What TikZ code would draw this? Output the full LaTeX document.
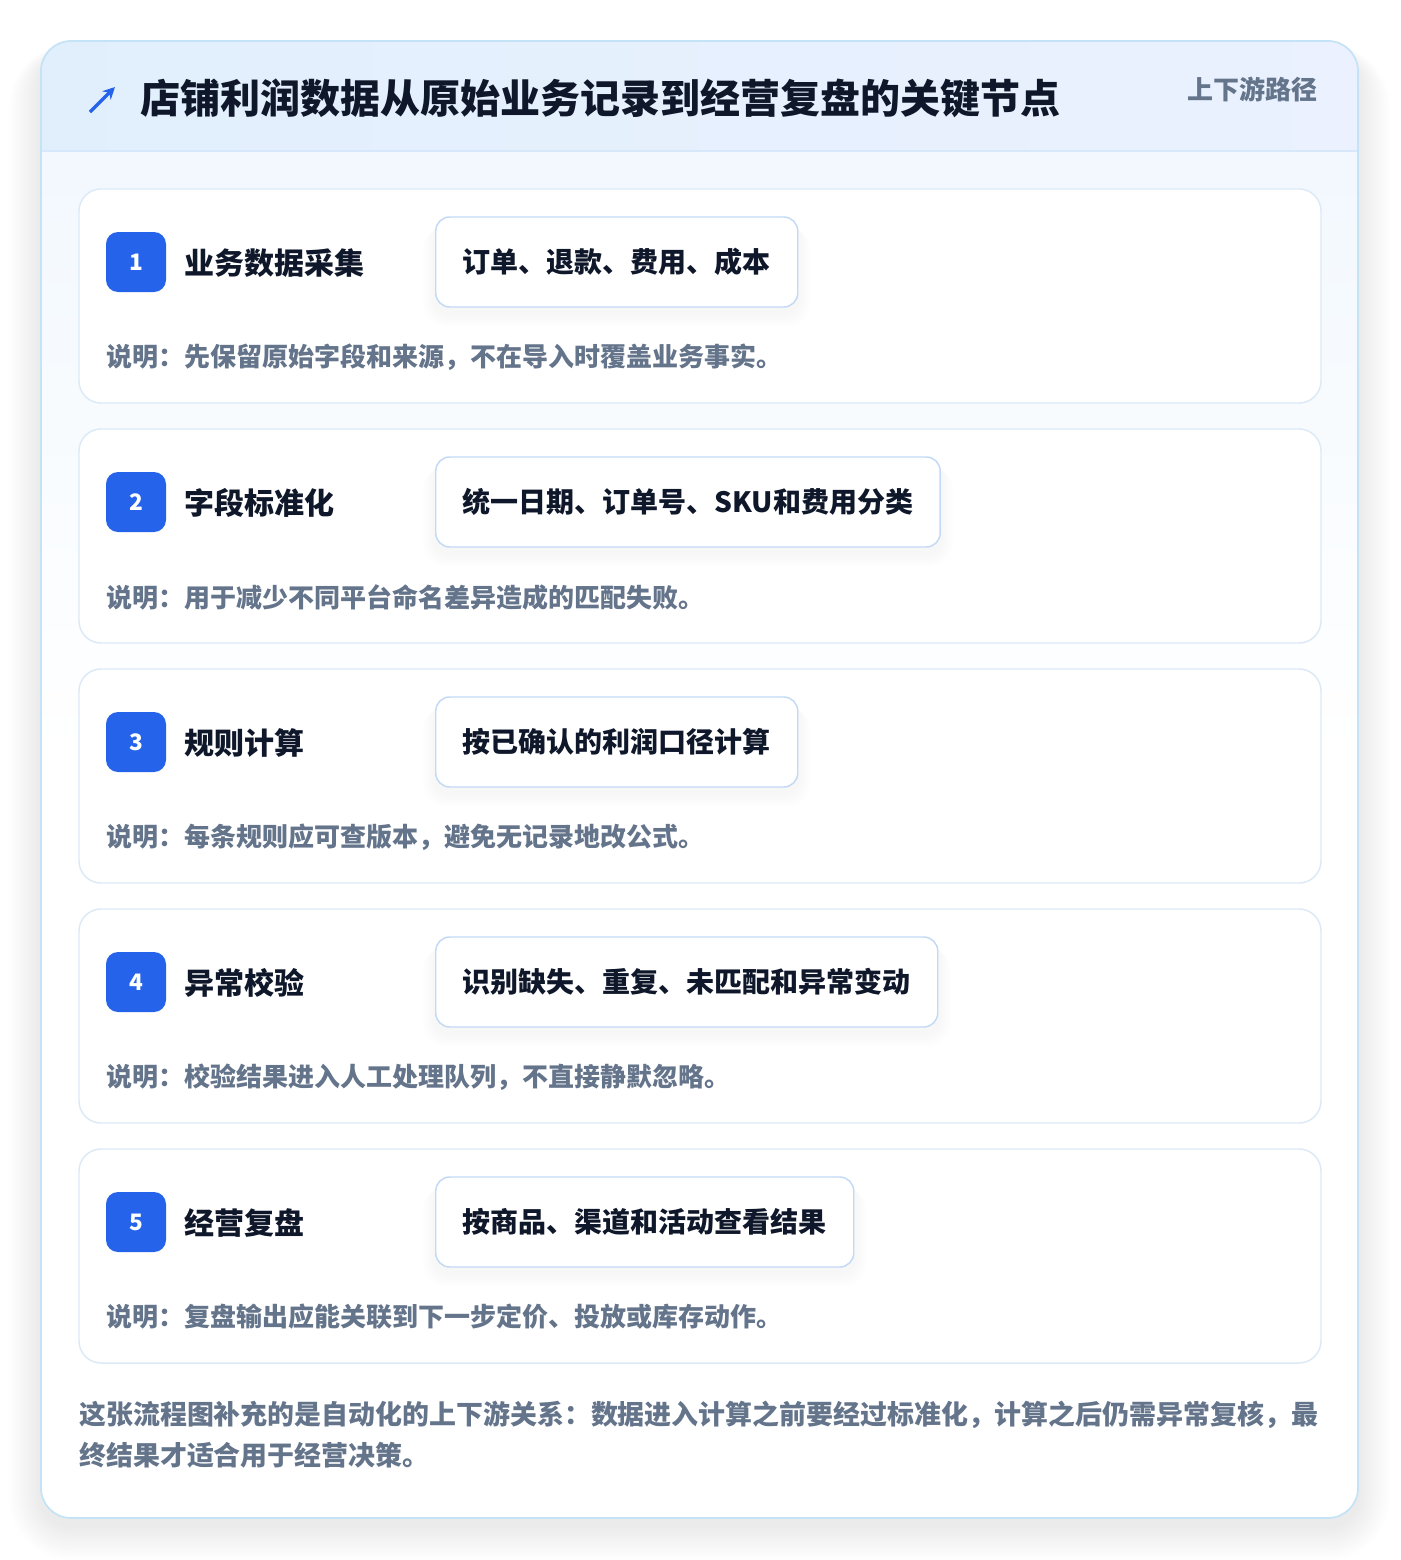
\documentclass[tikz,border=0pt]{standalone}
\usepackage{fontspec}
\usetikzlibrary{arrows.meta}
\setmainfont{Noto Sans CJK SC}
\definecolor{outerb}{HTML}{C5E3F7}
\definecolor{hdrL}{HTML}{E1EFFD}
\definecolor{hdrR}{HTML}{EBF1FE}
\definecolor{hdrline}{HTML}{D6E8FA}
\definecolor{bodyT}{HTML}{F2F8FE}
\definecolor{cardb}{HTML}{DCEAF7}
\definecolor{pillb}{HTML}{C3D9F5}
\definecolor{badge}{HTML}{2563EB}
\definecolor{ink}{HTML}{0F172A}
\definecolor{muted}{HTML}{64748B}
\tikzset{
  titletext/.style={anchor=west, inner sep=0pt, text=ink, font=\bfseries\fontsize{30pt}{36pt}\selectfont},
  tagtext/.style={anchor=east, inner sep=0pt, text=muted, font=\bfseries\fontsize{19.5pt}{24pt}\selectfont},
  stepcard/.style={fill=white, draw=cardb, line width=1.1pt, rounded corners=16.5pt},
  badgebox/.style={fill=badge, rounded corners=9pt, minimum width=45pt, minimum height=45pt, inner sep=0pt, text=white, font=\bfseries\fontsize{17pt}{20pt}\selectfont},
  steptitle/.style={anchor=west, inner sep=0pt, text=ink, font=\bfseries\fontsize{22.5pt}{27pt}\selectfont},
  pillbox/.style={anchor=west, fill=white, draw=pillb, line width=1.1pt, rounded corners=10.5pt, minimum height=67.5pt, inner xsep=20.25pt, inner ysep=0pt, text=ink, font=\bfseries\fontsize{21pt}{25pt}\selectfont},
  desctext/.style={anchor=west, inner sep=0pt, text=muted, font=\bfseries\fontsize{19.5pt}{23pt}\selectfont},
  foottext/.style={anchor=north west, inner sep=0pt, align=left, text=muted, font=\bfseries\fontsize{20.2pt}{30.75pt}\selectfont},
}
\begin{document}
\begin{tikzpicture}[x=0.75pt,y=-0.75pt]
\useasboundingbox (0,0) rectangle (1400,1560);
\fill[white] (0,0) rectangle (1400,1560);
% outer shadow
\foreach \i in {1,...,20}{
  \fill[black, opacity=0.0035, rounded corners=22.5pt+\i*1.2pt] (41-\i*1.6,41-\i*0.4+12) rectangle (1358+\i*1.6,1518+\i*1.7+8);
}
% outer card
\begin{scope}
\clip[rounded corners=22.5pt] (41,41) rectangle (1358,1518);
\shade[left color=hdrL, right color=hdrR] (41,41) rectangle (1358,151);
\shade[top color=bodyT, bottom color=white] (41,151) rectangle (1358,760);
\fill[white] (41,759) rectangle (1358,1518);
\end{scope}
\draw[hdrline, line width=1.1pt] (41,151) -- (1358,151);
\draw[outerb, line width=1.3pt, rounded corners=22.5pt] (41,41) rectangle (1358,1518);
% header
\coordinate (arrS) at (90,112);
\coordinate (arrE) at (115,87);
\draw[badge, line width=2.6pt, -{Stealth[length=9pt,width=9pt]}] (arrS) -- (arrE);
\node[titletext] (title) at (140,98) {店铺利润数据从原始业务记录到经营复盘的关键节点};
\node[tagtext] (tag) at (1318,89) {上下游路径};
% steps
\foreach \n/\t/\p/\d [count=\k from 0] in {
  1/业务数据采集/订单、退款、费用、成本/说明：先保留原始字段和来源，不在导入时覆盖业务事实。,
  2/字段标准化/统一日期、订单号、SKU和费用分类/说明：用于减少不同平台命名差异造成的匹配失败。,
  3/规则计算/按已确认的利润口径计算/说明：每条规则应可查版本，避免无记录地改公式。,
  4/异常校验/识别缺失、重复、未匹配和异常变动/说明：校验结果进入人工处理队列，不直接静默忽略。,
  5/经营复盘/按商品、渠道和活动查看结果/说明：复盘输出应能关联到下一步定价、投放或库存动作。}{
  \pgfmathsetmacro{\yo}{189+240*\k}
  \draw[stepcard] (79,\yo) rectangle (1321,\yo+214);
  \node[badgebox] (badge\n) at (136,\yo+73) {\n};
  \node[steptitle] (stitle\n) at (184,\yo+74) {\t};
  \node[pillbox, opacity=0, text opacity=0] (ghost\n) at (435,\yo+73) {\p};
  \foreach \j in {1,...,8}{
    \fill[black, opacity=0.005, rounded corners=10.5pt+\j*1pt] ([xshift=-\j*1.2pt, yshift=-\j*0.5pt-4pt]ghost\n.north west) rectangle ([xshift=\j*1.2pt, yshift=-\j*1.3pt-4pt]ghost\n.south east);
  }
  \node[pillbox] (pill\n) at (435,\yo+73) {\p};
  \node[desctext] (desc\n) at (106,\yo+168) {\d};
}
% footer
\node[foottext] (foot) at (79,1401) {这张流程图补充的是自动化的上下游关系：数据进入计算之前要经过标准化，计算之后仍需异常复核，最\\终结果才适合用于经营决策。};
\end{tikzpicture}
\end{document}
